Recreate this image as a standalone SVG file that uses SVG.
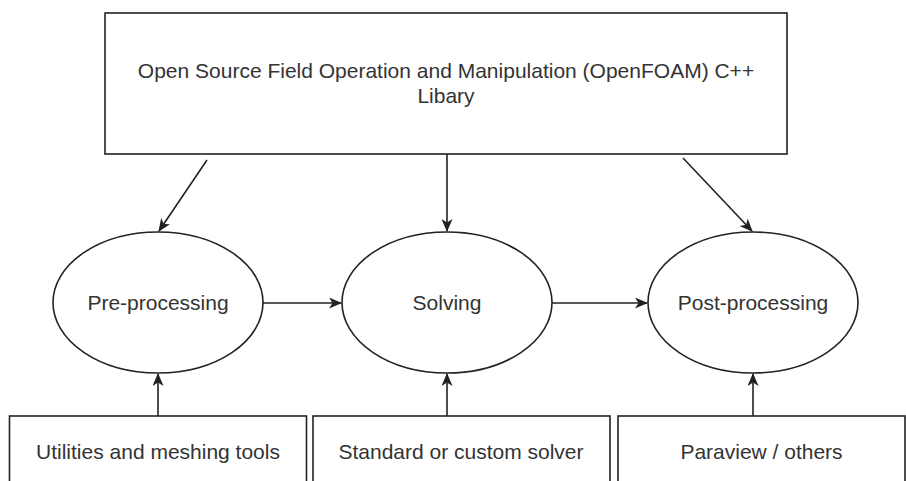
<svg xmlns="http://www.w3.org/2000/svg" width="906" height="481" viewBox="0 0 906 481">
<style>
.shape{fill:#fff;stroke:#222;stroke-width:1.6}
.lbl{font-family:"Liberation Sans",Arial,sans-serif;font-size:21px;fill:#333;text-anchor:middle}
.edge{fill:none;stroke:#222;stroke-width:1.6}
</style>
<defs>
<marker id="arr" viewBox="0 0 13 11" refX="12" refY="5.5" markerWidth="13" markerHeight="11" markerUnits="userSpaceOnUse" orient="auto">
<path d="M0,0 L13,5.5 L0,11 L3.5,5.5 z" fill="#222"/>
</marker>
</defs>
<rect width="906" height="481" fill="#fff"/>
<g id="library">
<rect class="shape" x="105" y="13" width="682" height="141"/>
<text class="lbl" x="446" y="78">Open Source Field Operation and Manipulation (OpenFOAM) C++</text>
<text class="lbl" x="446" y="103">Libary</text>
</g>
<g id="pre">
<ellipse class="shape" cx="158" cy="302.5" rx="105" ry="70.5"/>
<text class="lbl" x="158" y="310">Pre-processing</text>
</g>
<g id="solving">
<ellipse class="shape" cx="447" cy="302.5" rx="105" ry="70.5"/>
<text class="lbl" x="447" y="310">Solving</text>
</g>
<g id="post">
<ellipse class="shape" cx="753" cy="302.5" rx="105" ry="70.5"/>
<text class="lbl" x="753" y="310">Post-processing</text>
</g>
<g id="utilities">
<rect class="shape" x="9.5" y="416" width="297" height="80"/>
<text class="lbl" x="158" y="459">Utilities and meshing tools</text>
</g>
<g id="solver">
<rect class="shape" x="313" y="416" width="297" height="80"/>
<text class="lbl" x="461" y="459">Standard or custom solver</text>
</g>
<g id="paraview">
<rect class="shape" x="618" y="416" width="287" height="80"/>
<text class="lbl" x="761.5" y="459">Paraview / others</text>
</g>
<g id="connectors">
<line class="edge" x1="207" y1="160" x2="159" y2="231" marker-end="url(#arr)"/>
<line class="edge" x1="447" y1="154" x2="447" y2="231" marker-end="url(#arr)"/>
<line class="edge" x1="683" y1="158" x2="752" y2="231" marker-end="url(#arr)"/>
<line class="edge" x1="263" y1="303" x2="341" y2="303" marker-end="url(#arr)"/>
<line class="edge" x1="552" y1="303" x2="647" y2="303" marker-end="url(#arr)"/>
<line class="edge" x1="158" y1="416" x2="158" y2="374" marker-end="url(#arr)"/>
<line class="edge" x1="447" y1="416" x2="447" y2="374" marker-end="url(#arr)"/>
<line class="edge" x1="753" y1="416" x2="753" y2="374" marker-end="url(#arr)"/>
</g>
</svg>
